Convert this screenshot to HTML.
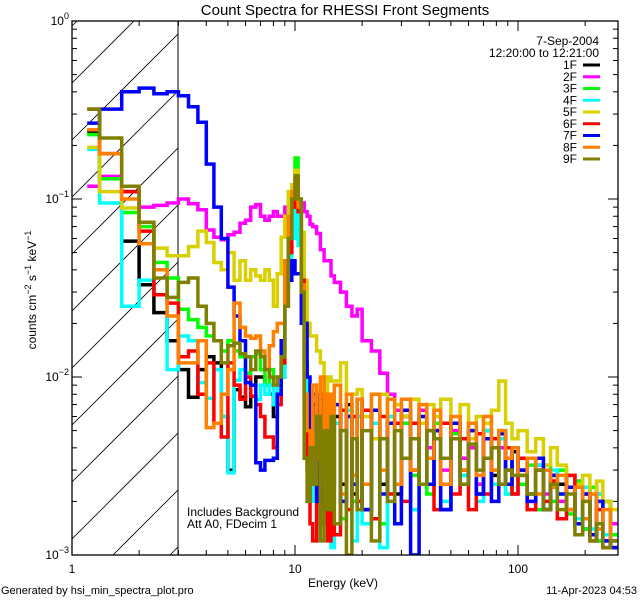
<!DOCTYPE html>
<html><head><meta charset="utf-8">
<style>
html,body{margin:0;padding:0;background:#fff;width:640px;height:600px;overflow:hidden;}
svg{display:block;font-family:"Liberation Sans",sans-serif;}
</style></head>
<body>
<svg id="chart" width="640" height="600" viewBox="0 0 640 600" xmlns="http://www.w3.org/2000/svg">
<rect width="640" height="600" fill="#fff"/>
<defs><clipPath id="plotclip"><rect x="72" y="21" width="546" height="534"/></clipPath>
<clipPath id="hatchclip"><rect x="72" y="21" width="106" height="534"/></clipPath></defs>
<text x="345" y="15" font-size="15" text-anchor="middle">Count Spectra for RHESSI Front Segments</text>
<g id="hatch" clip-path="url(#hatchclip)"></g>
<line x1="178" y1="21" x2="178" y2="555" stroke="#000" stroke-width="1"/>
<g id="series" clip-path="url(#plotclip)"></g>
<rect x="72" y="21" width="546" height="534" fill="none" stroke="#000" stroke-width="1.3"/>
<g id="axes"></g>
<text transform="translate(36,290) rotate(-90)" font-size="12" text-anchor="middle">counts cm<tspan dy="-5" font-size="9">−2</tspan><tspan dy="5"> s</tspan><tspan dy="-5" font-size="9">−1</tspan><tspan dy="5"> keV</tspan><tspan dy="-5" font-size="9">−1</tspan></text>
<text x="343" y="587" font-size="12" text-anchor="middle">Energy (keV)</text>
<text x="1" y="594" font-size="11">Generated by hsi_min_spectra_plot.pro</text>
<text x="637" y="594" font-size="11" text-anchor="end">11-Apr-2023 04:53</text>
<text x="187" y="516" font-size="12">Includes Background</text>
<text x="187" y="528" font-size="12">Att A0, FDecim 1</text>
<text x="599" y="45" font-size="12" text-anchor="end">7-Sep-2004</text>
<text x="599" y="57" font-size="12" text-anchor="end">12:20:00 to 12:21:00</text>
<g id="legend"></g>
</svg>
<script>
const edges=[1.17,1.33,1.67,2,2.33,2.67,3,3.33,3.67,4,4.33,4.67,5,5.33,5.67,6,6.33,6.67,7,7.33,7.67,8,8.33,8.67,9,9.33,9.67,10,10.33,10.67,11,11.33,11.67,12,
12.5,13,13.5,14,14.5,15,16,17,18,19,20,22,24,26,28,30,33,36,39,42,45,50,55,60,65,70,76,82,88,94,100,110,120,130,140,150,165,180,195,210,225,240,260,280];
const seriesNames=["1F","2F","3F","4F","5F","6F","7F","8F","9F"];
const seriesColors=["#000000","#ff00ff","#00ff00","#00ffff","#d8d000","#ff0000","#0000ff","#ff8000","#808000"];
const s1F=[.24,.13,.058,.033,.023,.016,.011,.0077,.011,.013,.012,.006,.003,.0085,.0077,.0068,.009,.01,.01,.009,.008,.006,.008,.01,.03,.05,.07,.1,.09,.03,.012,.006,.004,
.007,.0025,.008,.0035,.0075,.002,.006,.0025,.007,.0022,.006,.0018,.0065,.0025,.0055,.0022,.006,.003,.0055,.0025,.005,.0018,.0055,.003,.0045,.0022,.005,.0028,.0045,.0025,.0038,.003,.0022,.0032,.0018,.0028,.0025,.0018,.0026,.0014,.0024,.0012,.002,.0011];
const s2F=[.118,.134,.11,.09,.092,.095,.1,.094,.087,.067,.061,.059,.063,.065,.073,.076,.09,.093,.08,.076,.08,.085,.08,.08,.09,.085,.08,.075,.085,.095,.085,.08,.072,
.07,.064,.052,.045,.045,.037,.034,.03,.025,.022,.024,.016,.014,.0105,.008,.0065,.006,.0045,.0065,.004,.0055,.003,.005,.0035,.004,.0025,.0045,.0025,.004,.003,.0022,.0035,.002,.003,.0022,.0026,.002,.0028,.0016,.0024,.0013,.0022,.0012,.0015];
const s3F=[.23,.13,.084,.07,.044,.036,.024,.021,.019,.017,.016,.014,.016,.014,.013,.0105,.013,.0135,.011,.009,.011,.01,.01,.011,.045,.06,.12,.17,.09,.035,.01,.005,.003,
.006,.0022,.007,.0018,.0065,.0025,.007,.0016,.006,.002,.0075,.0025,.0065,.0015,.006,.0025,.0055,.0028,.006,.0022,.0055,.0025,.0048,.0028,.005,.0022,.0045,.0025,.005,.0022,.004,.0025,.0032,.0018,.0032,.002,.003,.0017,.0026,.0014,.0024,.0012,.002,.0013];
const s4F=[.19,.095,.025,.035,.029,.011,.017,.016,.0093,.0076,.011,.006,.0029,.0096,.011,.0093,.0078,.0075,.009,.008,.009,.007,.009,.01,.03,.04,.06,.1,.055,.045,.01,.004,.002,
.0045,.0012,.0065,.0018,.006,.0011,.0055,.002,.0065,.0012,.006,.0015,.0055,.0011,.006,.0025,.0065,.0018,.0055,.0025,.006,.002,.0055,.0028,.0045,.002,.005,.0025,.0045,.0022,.004,.0028,.0022,.0032,.0018,.003,.0022,.0028,.0016,.0024,.0014,.0022,.0013,.0012];
const s5F=[.195,.11,.089,.074,.053,.048,.048,.054,.066,.057,.044,.04,.05,.035,.045,.035,.04,.037,.035,.04,.035,.025,.038,.061,.08,.11,.12,.145,.1,.065,.035,.02,.017,
.017,.014,.012,.008,.01,.0095,.0095,.012,.008,.008,.0085,.006,.0045,.008,.0055,.007,.006,.0075,.0055,.007,.006,.0075,.0055,.007,.0045,.006,.0055,.0065,.0095,.0055,.0045,.005,.0038,.0045,.0032,.004,.0032,.0028,.0025,.0028,.0022,.0026,.002,.0018];
const s6F=[.32,.18,.11,.066,.029,.026,.013,.014,.008,.012,.0055,.0046,.012,.009,.0075,.01,.0078,.007,.006,.0046,.0046,.004,.007,.012,.025,.05,.09,.12,.085,.035,.006,.003,.0015,
.0012,.0065,.0015,.0075,.0012,.006,.0013,.0065,.0018,.006,.002,.0065,.0016,.006,.0022,.0055,.002,.0055,.0025,.005,.0018,.0055,.0022,.0045,.0018,.0048,.0022,.0045,.0025,.004,.0022,.0035,.0018,.003,.002,.0026,.0016,.0028,.0015,.0022,.0012,.0018,.0011,.0012];
const s7F=[.267,.32,.40,.42,.39,.40,.38,.33,.27,.157,.09,.06,.032,.022,.016,.0093,.009,.0033,.003,.0034,.0034,.0035,.008,.016,.025,.035,.045,.038,.038,.02,.02,.01,.005,
.008,.002,.0075,.0018,.0065,.0025,.007,.002,.006,.0025,.0075,.0018,.0065,.0022,.0055,.0015,.0065,.001,.006,.0025,.005,.0018,.0055,.0025,.005,.0022,.0045,.002,.0048,.0025,.004,.003,.002,.0035,.0018,.0028,.0022,.0024,.0015,.0022,.0013,.002,.0012,.0011];
const s8F=[.245,.18,.1,.056,.04,.022,.012,.012,.016,.0052,.0055,.008,.011,.026,.019,.017,.0165,.017,.014,.011,.015,.018,.02,.02,.045,.08,.11,.13,.09,.033,.008,.005,.003,
.009,.0035,.01,.0025,.008,.003,.009,.0022,.008,.0028,.0075,.0025,.008,.003,.0075,.0025,.0075,.003,.007,.0035,.0065,.0025,.006,.003,.0055,.0028,.006,.003,.005,.0035,.004,.0028,.0035,.0022,.003,.0024,.0028,.0018,.0024,.0016,.0022,.0014,.0018,.0012];
const s9F=[.32,.22,.118,.074,.036,.028,.034,.036,.025,.02,.016,.012,.015,.0155,.0135,.013,.011,.014,.013,.011,.01,.009,.01,.013,.025,.06,.1,.135,.1,.03,.0035,.002,.004,
.0025,.006,.0012,.005,.0018,.006,.0015,.005,.001,.0045,.0018,.005,.0012,.0045,.002,.005,.0035,.0045,.0025,.005,.0045,.0035,.0045,.0025,.0042,.003,.0035,.004,.0025,.003,.0028,.0028,.0022,.003,.0018,.0025,.0018,.0022,.0013,.002,.0012,.0015,.0011,.0012];
const seriesValues=[s1F,s2F,s3F,s4F,s5F,s6F,s7F,s8F,s9F];
const xMajorTicks=[1,10,100];
const xTickLabels=["1","10","100"];
const yMajorTicks=[1,0.1,0.01,0.001];
const yTickExps=["0","−1","−2","−3"];

const NS="http://www.w3.org/2000/svg";
const X0=72,X1=618,Y0=21,Y1=555,XH=178;
const xDec=223, yDec=178;
function xs(e){return X0+Math.log10(e)*xDec;}
function ys(v){return Y0-Math.log10(v)*yDec;}
function mk(tag,attrs,parent){const el=document.createElementNS(NS,tag);for(const k in attrs)el.setAttribute(k,attrs[k]);parent.appendChild(el);return el;}

// hatch lines: y = c - (x - X0), restricted to the hatch box
const hatch=document.getElementById('hatch');
for(let c=83-57*3;c<Y1+(XH-X0)+57;c+=57){
  let xa=X0, ya=c;
  if(ya>Y1){xa=X0+(ya-Y1);ya=Y1;}
  let xb=XH, yb=c-(XH-X0);
  if(yb<Y0){xb=X0+(c-Y0);yb=Y0;}
  if(xa>=xb||xa>XH||xb<X0)continue;
  const ln=mk('line',{x1:xa,y1:ya,x2:xb,y2:yb,stroke:'#000','stroke-width':0.8},hatch);
  
  
}

const sg=document.getElementById('series');
seriesValues.forEach((vals,si)=>{
  let d='';
  for(let i=0;i<vals.length;i++){
    const y=ys(vals[i]).toFixed(1);
    const xa=xs(edges[i]).toFixed(1), xb=xs(edges[i+1]).toFixed(1);
    d+=(i===0?'M':'L')+xa+','+y+'L'+xb+','+y;
  }
  const p=mk('path',{d:d,fill:'none',stroke:seriesColors[si],'stroke-width':3.5,'stroke-linejoin':'miter'},sg);
  
  
});

const ax=document.getElementById('axes');
for(let dec=0;dec<3;dec++){
  for(let m=1;m<10;m++){
    const e=Math.pow(10,dec)*m; const x=xs(e); if(x>X1)continue;
    const L=m===1?10:5;
    const t1=mk('line',{x1:x,y1:Y1,x2:x,y2:Y1-L,stroke:'#000','stroke-width':1},ax);
    
    
    const t2=mk('line',{x1:x,y1:Y0,x2:x,y2:Y0+L,stroke:'#000','stroke-width':1},ax);
    
    
  }
}
xMajorTicks.forEach((e,i)=>{
  const t=mk('text',{x:xs(e),y:Y1+18,'font-size':12,'text-anchor':'middle'},ax);
  t.textContent=xTickLabels[i];
  
  
});
for(let dec=-3;dec<0;dec++){
  for(let m=1;m<10;m++){
    const v=Math.pow(10,dec)*m; const y=ys(v);
    const L=m===1?10:5;
    const t1=mk('line',{x1:X0,y1:y,x2:X0+L,y2:y,stroke:'#000','stroke-width':1},ax);
    
    
    const t2=mk('line',{x1:X1,y1:y,x2:X1-L,y2:y,stroke:'#000','stroke-width':1},ax);
    
    
  }
}
yMajorTicks.forEach((v,i)=>{
  const y=ys(v);
  const t=mk('text',{x:X0-3,y:y+4,'font-size':12,'text-anchor':'end'},ax);
  const a=document.createElementNS(NS,'tspan');a.textContent='10';t.appendChild(a);
  const b=document.createElementNS(NS,'tspan');b.setAttribute('dy','-6');b.setAttribute('font-size','9');b.textContent=yTickExps[i];t.appendChild(b);
  
  
});

const lg=document.getElementById('legend');
seriesNames.forEach((n,i)=>{
  const y=65+i*11.75;
  const t=mk('text',{x:577,y:y+4,'font-size':12,'text-anchor':'end'},lg);
  t.textContent=n;
  
  
  const l=mk('line',{x1:583,y1:y,x2:600,y2:y,stroke:seriesColors[i],'stroke-width':3},lg);
  
  
});
</script>
</body></html>
